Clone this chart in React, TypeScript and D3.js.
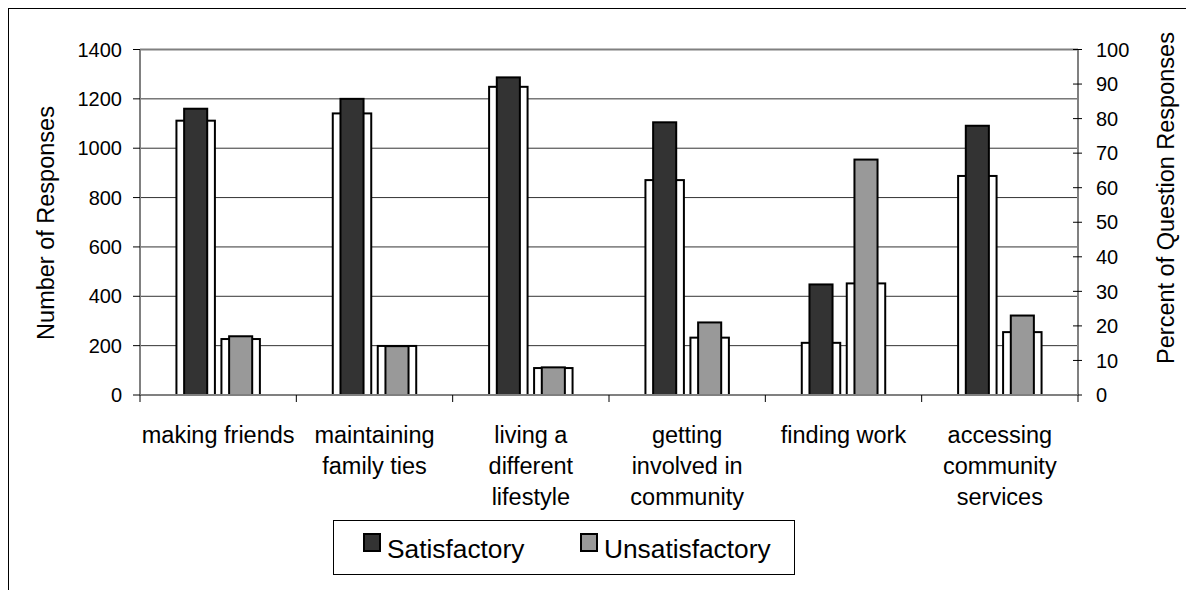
import { scaleBand, scaleLinear } from 'd3'

const categories = [
  ['making friends'],
  ['maintaining', 'family ties'],
  ['living a', 'different', 'lifestyle'],
  ['getting', 'involved in', 'community'],
  ['finding work'],
  ['accessing', 'community', 'services'],
]
const seriesNames = ['Satisfactory', 'Unsatisfactory']
const satisfactoryCount = [1160, 1200, 1287, 1105, 448, 1091]
const unsatisfactoryCount = [238, 198, 112, 294, 954, 322]
const satisfactoryPct = [79.4, 81.5, 89.2, 62.2, 15.1, 63.4]
const unsatisfactoryPct = [16.2, 14.2, 7.8, 16.6, 32.3, 18.2]
const leftTicks = [0, 200, 400, 600, 800, 1000, 1200, 1400]
const rightTicks = [0, 10, 20, 30, 40, 50, 60, 70, 80, 90, 100]
const seriesColors = ['#333333', '#999999']

const font = '"Liberation Sans", Arial, sans-serif'

export default function App() {
  const left = 140
  const right = 1078
  const top = 49.5
  const bottom = 395

  const keys = categories.map((c) => c.join(' '))
  const x0 = scaleBand<string>().domain(keys).range([left, right]).padding(0)
  const x1 = scaleBand<string>().domain(seriesNames).range([0, x0.bandwidth()]).paddingInner(0.145).paddingOuter(0.81)
  const yCount = scaleLinear().domain([0, 1400]).range([bottom, top])
  const yPct = scaleLinear().domain([0, 100]).range([bottom, top])

  const counts = [satisfactoryCount, unsatisfactoryCount]
  const pcts = [satisfactoryPct, unsatisfactoryPct]
  const wide = x1.bandwidth()
  const narrow = wide * 0.6

  return (
    <svg
      width={1186}
      height={590}
      style={{ position: 'absolute', left: 0, top: 0, display: 'block', background: '#fff' }}
      fontFamily={font}
    >
      <rect x={8.5} y={8.5} width={1300} height={700} fill="#fff" stroke="#000" strokeWidth={1} />

      {/* gridlines */}
      {leftTicks.map((t) => (
        <line
          key={t}
          x1={left}
          x2={right}
          y1={yCount(t)}
          y2={yCount(t)}
          stroke={t === 1400 ? '#808080' : '#333'}
          strokeWidth={t === 1400 ? 2 : 1}
        />
      ))}

      {/* bars */}
      {keys.map((k, i) => (
        <g key={k} transform={`translate(${x0(k)},0)`}>
          {seriesNames.map((s, j) => {
            const bx = x1(s) ?? 0
            return (
              <g key={s}>
                <rect
                  x={bx}
                  y={yPct(pcts[j][i])}
                  width={wide}
                  height={bottom - yPct(pcts[j][i])}
                  fill="#fff"
                  stroke="#000"
                  strokeWidth={2}
                />
                <rect
                  x={bx + (wide - narrow) / 2}
                  y={yCount(counts[j][i])}
                  width={narrow}
                  height={bottom - yCount(counts[j][i])}
                  fill={seriesColors[j]}
                  stroke="#000"
                  strokeWidth={2}
                />
              </g>
            )
          })}
        </g>
      ))}

      {/* left axis */}
      <line x1={left} x2={left} y1={top} y2={bottom} stroke="#808080" strokeWidth={2} />
      {leftTicks.map((t) => (
        <g key={t}>
          <line x1={left - 7} x2={left} y1={yCount(t)} y2={yCount(t)} stroke="#000" />
          <text x={122} y={yCount(t)} dy="0.36em" textAnchor="end" fontSize={20} fill="#000">
            {t}
          </text>
        </g>
      ))}

      {/* right axis */}
      <line x1={right} x2={right} y1={top} y2={bottom} stroke="#808080" strokeWidth={2} />
      {rightTicks.map((t) => (
        <g key={t}>
          <line x1={right - 5} x2={right + 4} y1={yPct(t)} y2={yPct(t)} stroke="#000" />
          <text x={1096} y={yPct(t)} dy="0.36em" textAnchor="start" fontSize={20} fill="#000">
            {t}
          </text>
        </g>
      ))}

      {/* x axis */}
      <line x1={left} x2={right} y1={bottom} y2={bottom} stroke="#808080" strokeWidth={2} />
      {[...keys.map((k) => x0(k) ?? 0), right].map((xv, i) => (
        <line key={i} x1={xv} x2={xv} y1={bottom} y2={bottom + 7} stroke="#000" />
      ))}
      {categories.map((lines, i) => {
        const cx = (x0(keys[i]) ?? 0) + x0.bandwidth() / 2
        return (
          <text key={i} x={cx} y={443} textAnchor="middle" fontSize={23.5} fill="#000">
            {lines.map((l, li) => (
              <tspan key={li} x={cx} dy={li === 0 ? 0 : 31}>
                {l}
              </tspan>
            ))}
          </text>
        )
      })}

      {/* axis titles */}
      <text
        transform="translate(46,223) rotate(-90)"
        textAnchor="middle"
        dominantBaseline="central"
        fontSize={23.5}
        fill="#000"
      >
        Number of Responses
      </text>
      <text
        transform="translate(1166,198) rotate(-90)"
        textAnchor="middle"
        dominantBaseline="central"
        fontSize={23.5}
        fill="#000"
      >
        Percent of Question Responses
      </text>

      {/* legend */}
      <rect x={333.5} y={520.5} width={461} height={54} fill="#fff" stroke="#000" strokeWidth={1} />
      {seriesNames.map((s, j) => {
        const lx = [364, 581][j]
        return (
          <g key={s}>
            <rect x={lx} y={534} width={16} height={17} fill={seriesColors[j]} stroke="#000" strokeWidth={2} />
            <text x={lx + 23} y={558} fontSize={26.3} fill="#000">
              {s}
            </text>
          </g>
        )
      })}
    </svg>
  )
}
